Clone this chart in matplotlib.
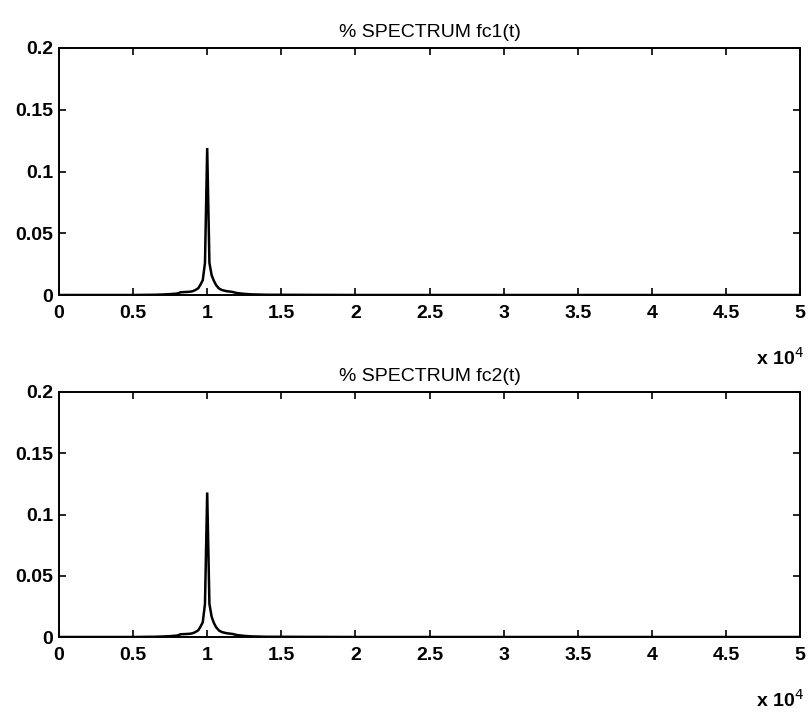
import matplotlib
matplotlib.use("Agg")
import matplotlib.pyplot as plt
from matplotlib.ticker import FuncFormatter

# Magnitude spectra of the two carriers (frequency in Hz)
freq_hz = [0, 5000, 6500, 7000, 7500, 8000, 8200, 8500, 8800, 9000, 9200,
           9400, 9550, 9700, 9850, 10000, 10150, 10300, 10450, 10600, 10800,
           11000, 11300, 11700, 12000, 12500, 13000, 14000, 20000, 50000]
spec_fc1 = [0, 0, 0.0002, 0.0004, 0.0007, 0.0012, 0.0022, 0.0024, 0.0026,
            0.0030, 0.0040, 0.0055, 0.0085, 0.0120, 0.0260, 0.1190, 0.0260,
            0.0160, 0.0115, 0.0080, 0.0052, 0.0040, 0.0031, 0.0025, 0.0016,
            0.0009, 0.0005, 0.0002, 0, 0]
spec_fc2 = [0, 0, 0.0002, 0.0004, 0.0007, 0.0012, 0.0022, 0.0024, 0.0026,
            0.0030, 0.0040, 0.0055, 0.0085, 0.0120, 0.0270, 0.1180, 0.0270,
            0.0165, 0.0115, 0.0080, 0.0052, 0.0040, 0.0031, 0.0025, 0.0016,
            0.0009, 0.0005, 0.0002, 0, 0]

titles = ["% SPECTRUM fc1(t)", "% SPECTRUM fc2(t)"]
x_ticks = [0, 5000, 10000, 15000, 20000, 25000, 30000, 35000, 40000, 45000, 50000]
y_ticks = [0, 0.05, 0.1, 0.15, 0.2]

plt.rcParams["font.family"] = "Liberation Sans"

W, H = 811, 713
fig = plt.figure(figsize=(W / 100, H / 100), dpi=100)

# axes boxes in pixels: (left, top, right, bottom)
boxes = [(59, 48, 800, 295), (59, 392, 800, 637)]


def fmt_x(v, _):
    return f"{v / 1e4:g}"


def fmt_y(v, _):
    return f"{v:g}"


for box, spec, title in zip(boxes, [spec_fc1, spec_fc2], titles):
    l, t, r, b = box
    ax = fig.add_axes([l / W, 1 - b / H, (r - l) / W, (b - t) / H])
    ax.plot(freq_hz, spec, color="black", lw=1.8, solid_joinstyle="miter")
    ax.set_xlim(0, 50000)
    ax.set_ylim(0, 0.2)
    ax.set_xticks(x_ticks)
    ax.set_yticks(y_ticks)
    ax.xaxis.set_major_formatter(FuncFormatter(fmt_x))
    ax.yaxis.set_major_formatter(FuncFormatter(fmt_y))
    ax.tick_params(direction="in", length=5, width=1.2, top=True, right=True,
                   labelsize=14)
    ax.tick_params(axis="x", pad=7)
    ax.tick_params(axis="y", pad=4)
    for lab in ax.get_xticklabels() + ax.get_yticklabels():
        lab.set_fontweight("bold")
    for sp in ax.spines.values():
        sp.set_linewidth(1.4)
    ax.set_title(title, fontsize=14, pad=8)
    ax.annotate(r"x 10$^{4}$", xy=(1.0, 0.0), xycoords="axes fraction",
                xytext=(4, -63), textcoords="offset pixels",
                ha="right", va="center", fontsize=14, fontweight="bold")

fig.savefig("out.png", dpi=100)
